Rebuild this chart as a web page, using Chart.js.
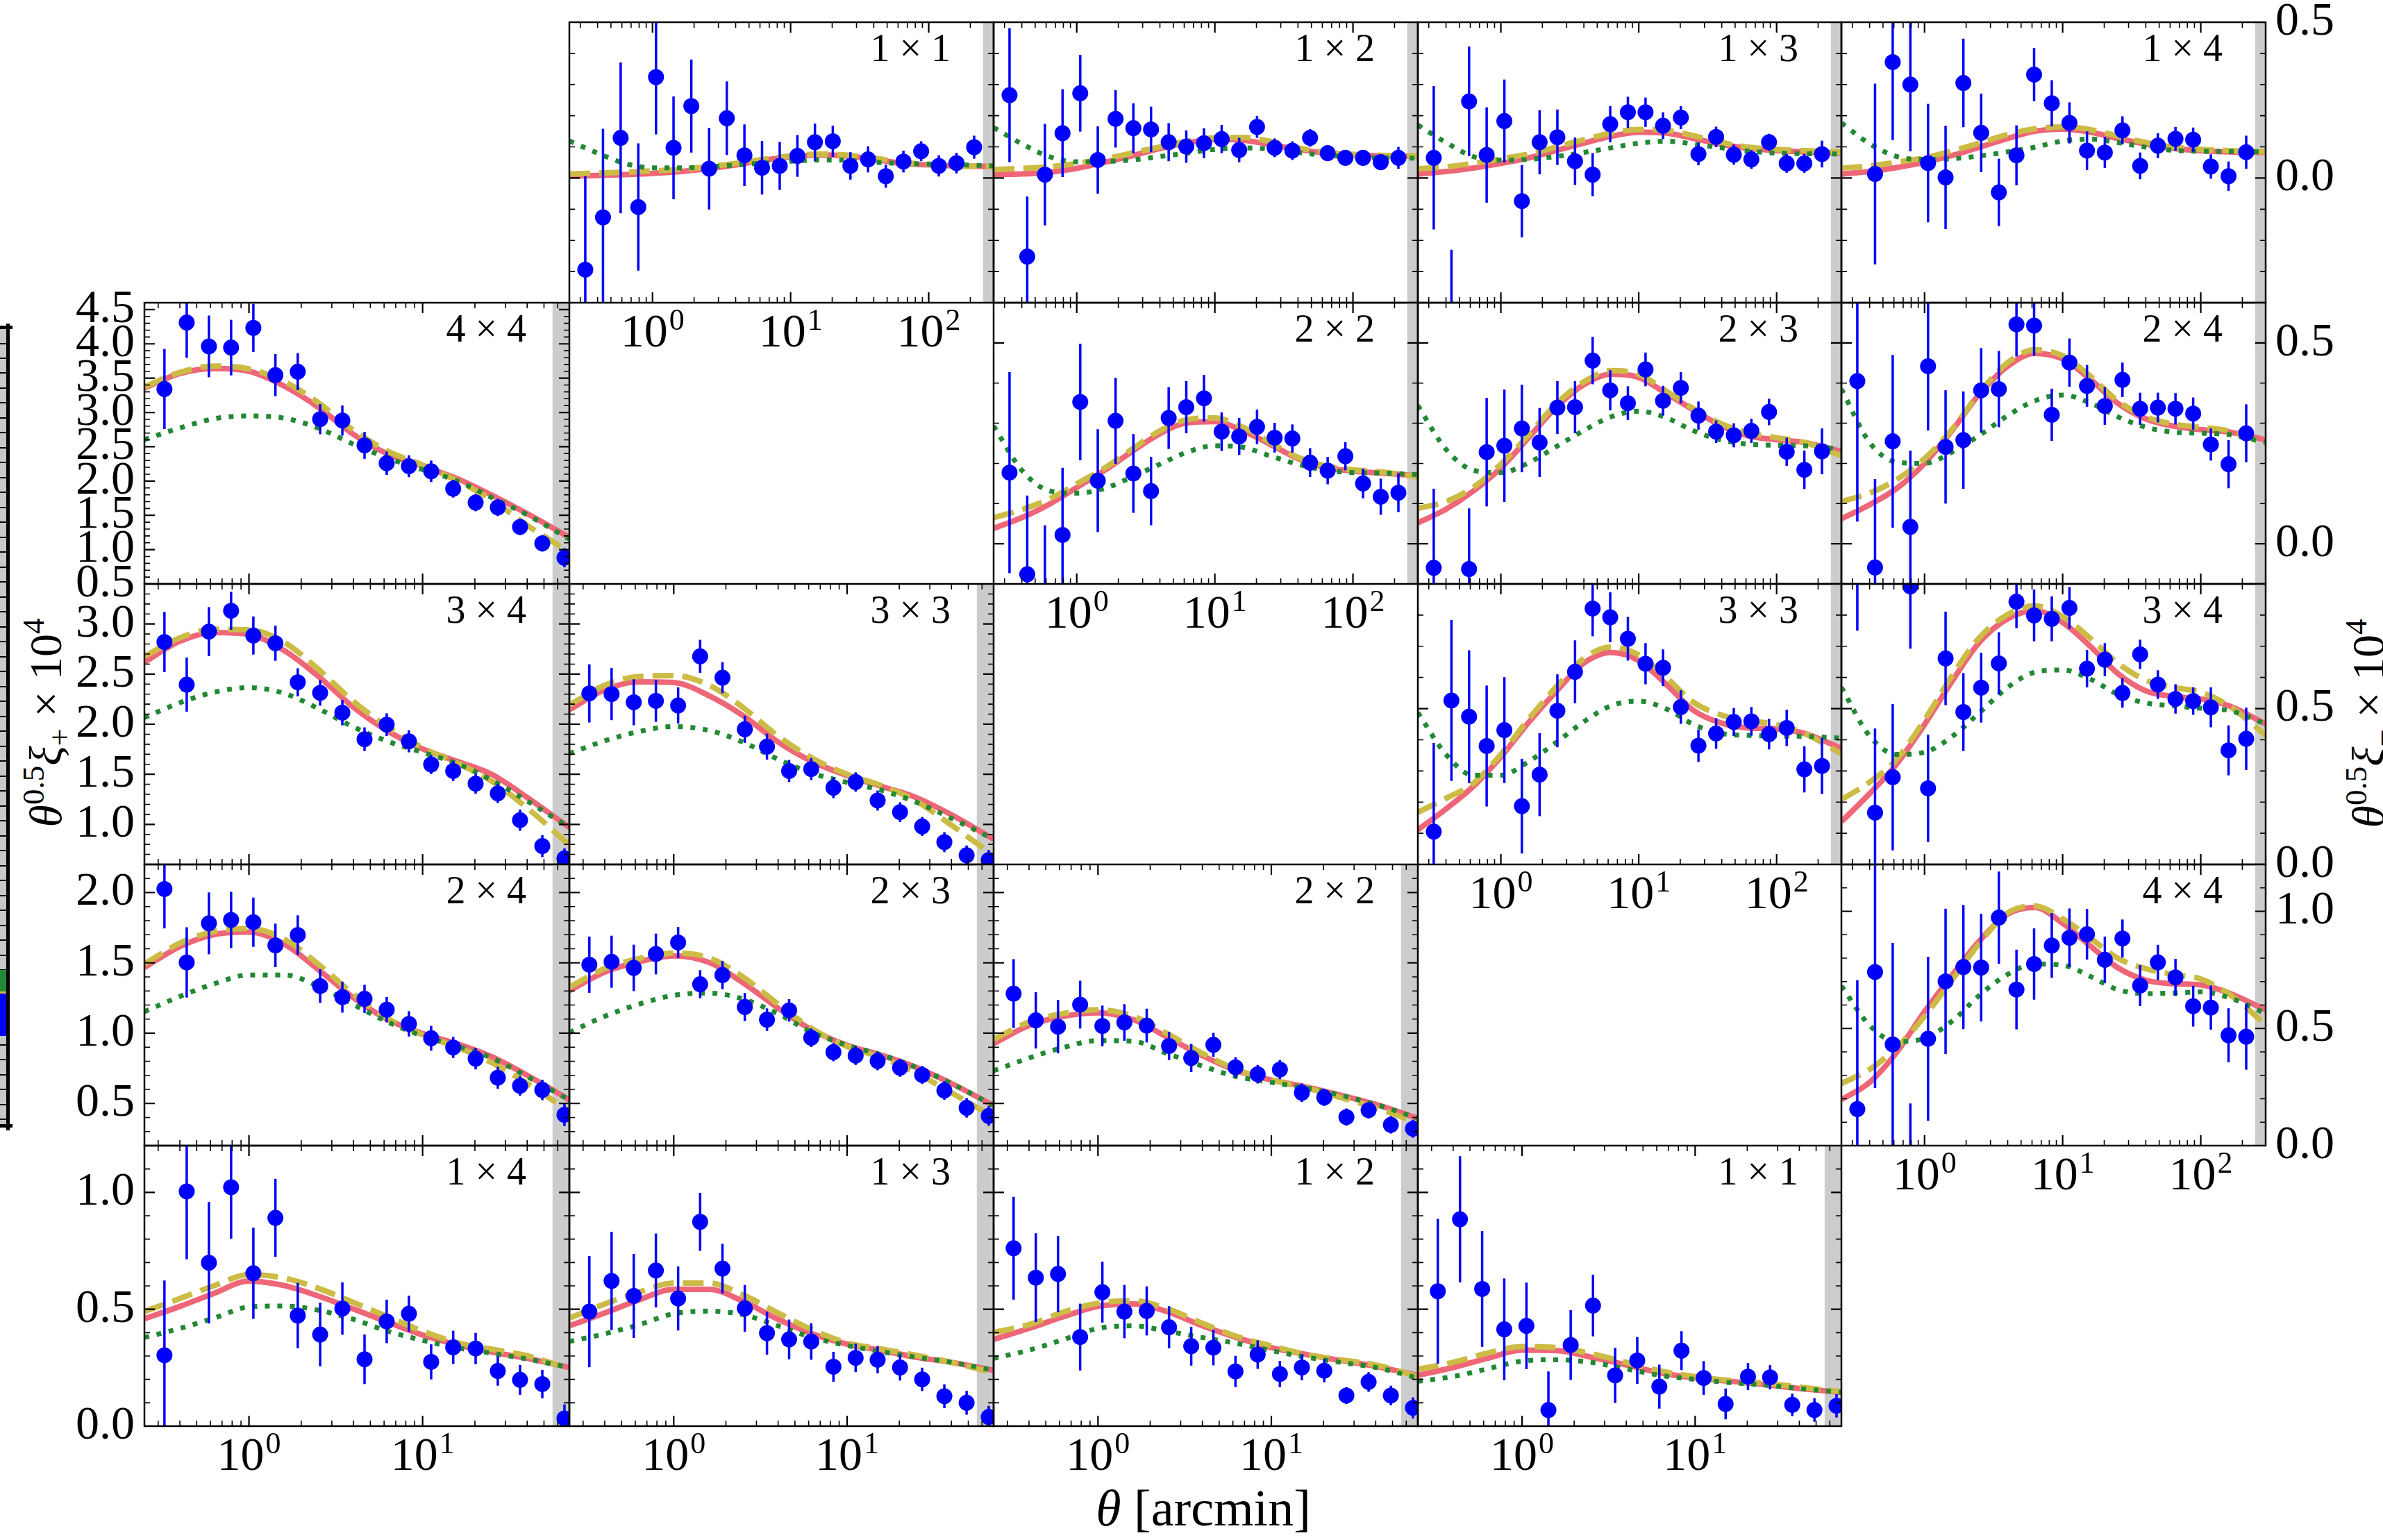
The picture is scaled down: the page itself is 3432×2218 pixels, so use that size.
<!DOCTYPE html>
<html>
<head>
<meta charset="utf-8">
<title>Cosmic shear correlation functions</title>
<script src="https://cdn.jsdelivr.net/npm/chart.js"></script>
<style>
  html, body { margin: 0; padding: 0; background: #fff; }
  #fig { position: relative; width: 3432px; height: 2218px; overflow: hidden; background: #fff; }
  #fig canvas { position: absolute; }
  .lbl { position: absolute; white-space: nowrap; color: #000; line-height: 1;
         font-family: 'Liberation Serif', 'Times New Roman', serif; }
  .lbl sup { font-size: 0.68em; vertical-align: 0; position: relative; top: -0.55em; }
  .lbl sub { font-size: 0.68em; vertical-align: 0; position: relative; top: 0.28em; }
  .strip { position: absolute; }
</style>
</head>
<body>
<div id="fig">
  <!-- legend swatches cut at the left border -->
  <div class="strip" style="left:0;top:472px;width:10px;height:1152px;background:repeating-linear-gradient(to bottom,#000 0 2px,#c8c8c8 2px 21.5px)"></div>
  <div class="strip" style="left:0;top:1397px;width:9px;height:31px;background:#228833"></div>
  <div class="strip" style="left:0;top:1428px;width:9px;height:3px;background:#CCBB44"></div>
  <div class="strip" style="left:0;top:1431px;width:9px;height:61px;background:#0000ff"></div>
  <div class="strip" style="left:9px;top:466px;width:5px;height:1162px;background:#000"></div>
  <div class="strip" style="left:0;top:469px;width:18px;height:5px;background:#000"></div>
  <div class="strip" style="left:0;top:1619px;width:18px;height:5px;background:#000"></div>

  <div class="lbl" style="left:1733px;top:2135px;font-size:74px;transform:translateX(-50%)"><i>θ</i> [arcmin]</div>
  <div class="lbl" style="left:66px;top:1041px;font-size:66px;transform:translate(-50%,-50%) rotate(-90deg)"><i>θ</i><sup>0.5</sup><i>ξ</i><sub>+</sub> × 10<sup>4</sup></div>
  <div class="lbl" style="left:3411px;top:1042px;font-size:66px;transform:translate(-50%,-50%) rotate(-90deg)"><i>θ</i><sup>0.5</sup><i>ξ</i><sub>−</sub> × 10<sup>4</sup></div>
</div>
<script>
// ---------------------------------------------------------------------------
// angular bins (arcmin)
const thetaPlus  = [0.326, 0.438, 0.588, 0.789, 1.06, 1.42, 1.91, 2.57, 3.45, 4.63, 6.21, 8.34, 11.2, 15.0, 20.2, 27.1, 36.4, 48.9, 65.6];
const thetaMinus = [0.326, 0.438, 0.588, 0.789, 1.06, 1.42, 1.91, 2.57, 3.45, 4.63, 6.21, 8.34, 11.2, 15.0, 20.2, 27.1, 36.4, 48.9, 65.6, 88.1, 118.3, 158.9, 213.3];
// angles where the model predictions are tabulated
const modelThetaPlus  = [0.25, 0.4, 0.63, 1, 1.6, 2.5, 4, 6.3, 10, 16, 25, 40, 70];
const modelThetaMinus = [0.25, 0.4, 0.63, 1, 1.6, 2.5, 4, 6.3, 10, 16, 25, 40, 63, 100, 160, 300];

// tick values and labels
const xTickValues   = [1, 10, 100];
const xTickBase     = ['10', '10', '10'];
const xTickExponent = ['0', '1', '2'];
const yTicksPlusR1  = [0.5, 1.0, 1.5, 2.0, 2.5, 3.0, 3.5, 4.0, 4.5];
const yTicksPlusR2  = [1.0, 1.5, 2.0, 2.5, 3.0];
const yTicksPlusR3  = [0.5, 1.0, 1.5, 2.0];
const yTicksPlusR4  = [0.0, 0.5, 1.0];
const yTicksMinusR0 = [0.0, 0.5];
const yTicksMinusR1 = [0.0, 0.5];
const yTicksMinusR2 = [0.0, 0.5];
const yTicksMinusR3 = [0.0, 0.5, 1.0];

// ---------------------------------------------------------------------------
// xi_minus measurements, errors and models (solid / dashed / dotted)
const xm11 = [-0.294, -0.126, 0.129, -0.093, 0.324, 0.097, 0.231, 0.030, 0.192, 0.073, 0.033, 0.039, 0.071, 0.115, 0.118, 0.039, 0.060, 0.006, 0.053, 0.086, 0.039, 0.048, 0.099];
const xm11Err = [0.30, 0.284, 0.242, 0.204, 0.184, 0.165, 0.149, 0.131, 0.118, 0.099, 0.086, 0.077, 0.067, 0.060, 0.050, 0.044, 0.042, 0.037, 0.035, 0.032, 0.034, 0.033, 0.037];
const xm11Solid  = [0.006, 0.008, 0.011, 0.015, 0.021, 0.030, 0.042, 0.057, 0.068, 0.074, 0.071, 0.060, 0.048, 0.042, 0.039, 0.037];
const xm11Dashed = [0.013, 0.016, 0.019, 0.023, 0.028, 0.036, 0.047, 0.060, 0.071, 0.077, 0.074, 0.064, 0.051, 0.043, 0.039, 0.037];
const xm11Dotted = [0.119, 0.080, 0.047, 0.033, 0.033, 0.036, 0.042, 0.048, 0.054, 0.058, 0.057, 0.051, 0.047, 0.045, 0.043, 0.039];

const xm12 = [0.266, -0.252, 0.011, 0.144, 0.272, 0.058, 0.190, 0.160, 0.156, 0.115, 0.101, 0.112, 0.125, 0.090, 0.164, 0.097, 0.088, 0.129, 0.080, 0.065, 0.065, 0.051, 0.065];
const xm12Err = [0.215, 0.193, 0.163, 0.141, 0.123, 0.108, 0.092, 0.080, 0.073, 0.061, 0.052, 0.048, 0.045, 0.039, 0.035, 0.030, 0.030, 0.028, 0.026, 0.025, 0.025, 0.026, 0.035];
const xm12Solid  = [0.011, 0.013, 0.019, 0.031, 0.051, 0.071, 0.095, 0.113, 0.124, 0.121, 0.108, 0.092, 0.080, 0.074, 0.071, 0.070];
const xm12Dashed = [0.027, 0.031, 0.036, 0.047, 0.062, 0.080, 0.100, 0.118, 0.129, 0.130, 0.118, 0.097, 0.083, 0.076, 0.073, 0.071];
const xm12Dotted = [0.162, 0.110, 0.069, 0.052, 0.053, 0.058, 0.069, 0.080, 0.092, 0.097, 0.093, 0.082, 0.073, 0.068, 0.065, 0.064];

const xm13 = [0.065, -0.44, 0.246, 0.074, 0.183, -0.074, 0.115, 0.131, 0.054, 0.011, 0.173, 0.211, 0.211, 0.168, 0.194, 0.077, 0.132, 0.075, 0.060, 0.115, 0.047, 0.047, 0.077];
const xm13Err = [0.23, 0.21, 0.176, 0.153, 0.133, 0.116, 0.103, 0.089, 0.076, 0.069, 0.058, 0.050, 0.047, 0.043, 0.037, 0.036, 0.033, 0.032, 0.030, 0.027, 0.030, 0.030, 0.043];
const xm13Solid  = [0.013, 0.021, 0.032, 0.047, 0.065, 0.088, 0.112, 0.134, 0.147, 0.144, 0.127, 0.108, 0.095, 0.088, 0.084, 0.080];
const xm13Dashed = [0.030, 0.036, 0.047, 0.062, 0.077, 0.099, 0.123, 0.144, 0.156, 0.153, 0.136, 0.114, 0.099, 0.092, 0.088, 0.083];
const xm13Dotted = [0.170, 0.114, 0.069, 0.058, 0.060, 0.069, 0.082, 0.097, 0.112, 0.118, 0.109, 0.097, 0.086, 0.080, 0.078, 0.077];

const xm14 = [null, 0.013, 0.372, 0.300, 0.048, 0.002, 0.305, 0.145, -0.046, 0.073, 0.332, 0.240, 0.177, 0.088, 0.082, 0.153, 0.039, 0.104, 0.126, 0.123, 0.037, 0.006, 0.083];
const xm14Err = [null, 0.29, 0.25, 0.214, 0.19, 0.166, 0.142, 0.126, 0.108, 0.096, 0.085, 0.074, 0.066, 0.062, 0.050, 0.045, 0.043, 0.040, 0.038, 0.039, 0.039, 0.047, 0.053];
const xm14Solid  = [0.013, 0.021, 0.034, 0.051, 0.073, 0.099, 0.127, 0.150, 0.157, 0.147, 0.127, 0.109, 0.095, 0.088, 0.084, 0.082];
const xm14Dashed = [0.032, 0.039, 0.051, 0.065, 0.088, 0.112, 0.140, 0.158, 0.164, 0.155, 0.135, 0.114, 0.099, 0.092, 0.088, 0.084];
const xm14Dotted = [0.177, 0.110, 0.069, 0.060, 0.062, 0.071, 0.084, 0.099, 0.119, 0.125, 0.114, 0.099, 0.089, 0.086, 0.085, 0.084];

const xm22 = [0.177, -0.076, -0.14, 0.022, 0.353, 0.157, 0.306, 0.175, 0.131, 0.313, 0.340, 0.362, 0.279, 0.267, 0.291, 0.264, 0.262, 0.202, 0.182, 0.218, 0.150, 0.117, 0.127];
const xm22Err = [0.25, 0.196, 0.186, 0.167, 0.145, 0.128, 0.107, 0.098, 0.085, 0.077, 0.065, 0.058, 0.048, 0.046, 0.043, 0.037, 0.035, 0.036, 0.034, 0.035, 0.037, 0.045, 0.048];
const xm22Solid  = [0.038, 0.065, 0.098, 0.140, 0.183, 0.229, 0.274, 0.301, 0.304, 0.281, 0.248, 0.212, 0.190, 0.181, 0.176, 0.169];
const xm22Dashed = [0.065, 0.085, 0.111, 0.149, 0.189, 0.235, 0.281, 0.309, 0.313, 0.290, 0.253, 0.215, 0.194, 0.184, 0.179, 0.166];
const xm22Dotted = [0.293, 0.183, 0.132, 0.126, 0.138, 0.166, 0.198, 0.228, 0.244, 0.240, 0.219, 0.198, 0.183, 0.177, 0.176, 0.172];

const xm23 = [-0.060, null, -0.063, 0.228, 0.244, 0.287, 0.252, 0.339, 0.340, 0.456, 0.382, 0.350, 0.434, 0.356, 0.388, 0.319, 0.279, 0.270, 0.281, 0.328, 0.229, 0.184, 0.230];
const xm23Err = [0.197, null, 0.151, 0.135, 0.14, 0.109, 0.086, 0.066, 0.065, 0.059, 0.050, 0.042, 0.042, 0.037, 0.039, 0.035, 0.028, 0.030, 0.030, 0.033, 0.035, 0.048, 0.057];
const xm23Solid  = [0.052, 0.086, 0.131, 0.189, 0.265, 0.339, 0.396, 0.422, 0.414, 0.373, 0.333, 0.293, 0.268, 0.259, 0.252, 0.229];
const xm23Dashed = [0.088, 0.105, 0.140, 0.198, 0.272, 0.347, 0.403, 0.431, 0.422, 0.379, 0.336, 0.298, 0.276, 0.264, 0.252, 0.218];
const xm23Dotted = [0.344, 0.235, 0.183, 0.177, 0.202, 0.241, 0.282, 0.316, 0.330, 0.313, 0.281, 0.258, 0.248, 0.245, 0.244, 0.235];

const xm24 = [0.405, -0.059, 0.255, 0.042, 0.442, 0.241, 0.258, 0.382, 0.385, 0.546, 0.543, 0.321, 0.451, 0.393, 0.343, 0.408, 0.336, 0.339, 0.336, 0.324, 0.247, 0.198, 0.275];
const xm24Err = [0.35, 0.22, 0.215, 0.19, 0.16, 0.141, 0.121, 0.105, 0.095, 0.080, 0.075, 0.065, 0.060, 0.052, 0.047, 0.043, 0.040, 0.037, 0.039, 0.040, 0.040, 0.060, 0.072];
const xm24Solid  = [0.062, 0.097, 0.138, 0.200, 0.284, 0.373, 0.442, 0.474, 0.460, 0.408, 0.350, 0.311, 0.293, 0.284, 0.278, 0.258];
const xm24Dashed = [0.105, 0.126, 0.160, 0.212, 0.287, 0.376, 0.451, 0.483, 0.468, 0.416, 0.356, 0.316, 0.298, 0.290, 0.281, 0.247];
const xm24Dotted = [0.385, 0.252, 0.203, 0.200, 0.229, 0.270, 0.319, 0.356, 0.370, 0.350, 0.316, 0.290, 0.278, 0.275, 0.272, 0.252];

const xm33 = [0.105, 0.526, 0.474, 0.380, 0.431, 0.187, 0.288, 0.493, 0.618, 0.821, 0.793, 0.724, 0.644, 0.631, 0.505, 0.381, 0.420, 0.457, 0.459, 0.418, 0.438, 0.305, 0.316];
const xm33Err = [0.285, 0.258, 0.213, 0.194, 0.17, 0.152, 0.133, 0.117, 0.101, 0.089, 0.080, 0.070, 0.066, 0.059, 0.054, 0.052, 0.049, 0.045, 0.046, 0.049, 0.058, 0.074, 0.090];
const xm33Solid  = [0.111, 0.178, 0.250, 0.345, 0.457, 0.553, 0.646, 0.680, 0.654, 0.576, 0.494, 0.453, 0.438, 0.435, 0.420, 0.371];
const xm33Dashed = [0.167, 0.212, 0.260, 0.353, 0.468, 0.568, 0.661, 0.698, 0.672, 0.598, 0.520, 0.479, 0.461, 0.449, 0.420, 0.353];
const xm33Dotted = [0.487, 0.353, 0.286, 0.286, 0.331, 0.390, 0.458, 0.509, 0.524, 0.498, 0.449, 0.420, 0.414, 0.412, 0.411, 0.405];

const xm34 = [1.0, 0.166, 0.280, 0.892, 0.244, 0.661, 0.489, 0.567, 0.645, 0.843, 0.799, 0.788, 0.823, 0.628, 0.657, 0.550, 0.674, 0.577, 0.531, 0.524, 0.504, 0.366, 0.403];
const xm34Err = [0.25, 0.27, 0.235, 0.20, 0.172, 0.15, 0.125, 0.112, 0.100, 0.085, 0.083, 0.072, 0.067, 0.060, 0.053, 0.047, 0.047, 0.046, 0.047, 0.044, 0.064, 0.080, 0.100];
const xm34Solid  = [0.137, 0.227, 0.323, 0.449, 0.591, 0.713, 0.788, 0.814, 0.776, 0.698, 0.613, 0.557, 0.539, 0.531, 0.509, 0.449];
const xm34Dashed = [0.208, 0.264, 0.338, 0.464, 0.609, 0.728, 0.802, 0.830, 0.795, 0.724, 0.646, 0.591, 0.568, 0.553, 0.509, 0.412];
const xm34Dotted = [0.568, 0.412, 0.353, 0.360, 0.412, 0.487, 0.568, 0.617, 0.624, 0.594, 0.546, 0.518, 0.509, 0.501, 0.494, 0.449];

const xm44 = [0.156, 0.741, 0.432, -0.19, 0.456, 0.701, 0.762, 0.760, 0.973, 0.666, 0.775, 0.854, 0.887, 0.902, 0.793, 0.884, 0.683, 0.782, 0.718, 0.595, 0.589, 0.471, 0.465];
const xm44Err = [0.55, 0.495, 0.433, 0.37, 0.35, 0.31, 0.265, 0.23, 0.197, 0.17, 0.152, 0.138, 0.125, 0.108, 0.099, 0.081, 0.087, 0.075, 0.079, 0.087, 0.094, 0.115, 0.141];
const xm44Solid  = [0.196, 0.270, 0.399, 0.572, 0.731, 0.874, 0.988, 1.016, 0.949, 0.850, 0.760, 0.706, 0.691, 0.686, 0.651, 0.577];
const xm44Dashed = [0.265, 0.325, 0.419, 0.552, 0.711, 0.864, 0.993, 1.023, 0.968, 0.884, 0.800, 0.755, 0.731, 0.711, 0.647, 0.513];
const xm44Dotted = [0.681, 0.513, 0.444, 0.458, 0.533, 0.642, 0.731, 0.775, 0.770, 0.721, 0.666, 0.649, 0.651, 0.656, 0.632, 0.562];

// xi_plus measurements, errors and models (solid / dashed / dotted)
const xp44 = [3.341, 4.311, 3.963, 3.946, 4.233, 3.544, 3.595, 2.902, 2.882, 2.520, 2.260, 2.216, 2.142, 1.889, 1.686, 1.615, 1.331, 1.091, 0.882];
const xp44Err = [0.584, 0.514, 0.45, 0.405, 0.35, 0.307, 0.27, 0.22, 0.22, 0.196, 0.17, 0.16, 0.157, 0.13, 0.127, 0.127, 0.12, 0.12, 0.14];
const xp44Solid  = [3.355, 3.568, 3.642, 3.601, 3.382, 3.078, 2.679, 2.395, 2.216, 2.030, 1.794, 1.524, 1.179];
const xp44Dashed = [3.372, 3.584, 3.676, 3.635, 3.449, 3.145, 2.740, 2.436, 2.233, 1.997, 1.726, 1.355, 0.966];
const xp44Dotted = [2.605, 2.774, 2.909, 2.949, 2.916, 2.774, 2.537, 2.334, 2.166, 1.997, 1.760, 1.507, 1.152];

const xp34 = [2.820, 2.395, 2.924, 3.132, 2.885, 2.808, 2.418, 2.312, 2.115, 1.850, 1.995, 1.829, 1.598, 1.533, 1.406, 1.309, 1.042, 0.783, 0.660];
const xp34Err = [0.30, 0.27, 0.245, 0.19, 0.19, 0.175, 0.14, 0.127, 0.127, 0.118, 0.113, 0.11, 0.096, 0.10, 0.10, 0.096, 0.106, 0.11, 0.10];
const xp34Solid  = [2.619, 2.827, 2.915, 2.896, 2.734, 2.480, 2.169, 1.931, 1.753, 1.626, 1.499, 1.268, 0.968];
const xp34Dashed = [2.677, 2.862, 2.947, 2.942, 2.815, 2.550, 2.226, 1.972, 1.764, 1.607, 1.430, 1.164, 0.794];
const xp34Dotted = [2.065, 2.215, 2.319, 2.365, 2.307, 2.157, 1.972, 1.829, 1.718, 1.603, 1.441, 1.233, 0.968];

const xp33 = [2.307, 2.300, 2.219, 2.233, 2.187, 2.677, 2.464, 1.949, 1.776, 1.533, 1.552, 1.365, 1.423, 1.238, 1.122, 0.979, 0.822, 0.691, 0.644];
const xp33Err = [0.29, 0.26, 0.23, 0.21, 0.18, 0.165, 0.155, 0.135, 0.13, 0.11, 0.11, 0.104, 0.097, 0.10, 0.098, 0.095, 0.10, 0.098, 0.10];
const xp33Solid  = [2.145, 2.342, 2.423, 2.416, 2.284, 2.088, 1.822, 1.626, 1.487, 1.376, 1.268, 1.095, 0.852];
const xp33Dashed = [2.192, 2.388, 2.476, 2.485, 2.388, 2.169, 1.880, 1.661, 1.499, 1.383, 1.233, 0.991, 0.691];
const xp33Dotted = [1.707, 1.834, 1.926, 1.977, 1.938, 1.822, 1.649, 1.510, 1.418, 1.337, 1.222, 1.060, 0.852];

const xp24 = [2.025, 1.503, 1.781, 1.805, 1.789, 1.624, 1.698, 1.335, 1.256, 1.244, 1.167, 1.066, 0.964, 0.898, 0.818, 0.683, 0.625, 0.596, 0.419];
const xp24Err = [0.28, 0.25, 0.22, 0.20, 0.175, 0.155, 0.14, 0.12, 0.11, 0.10, 0.09, 0.09, 0.088, 0.075, 0.076, 0.078, 0.07, 0.073, 0.08];
const xp24Solid  = [1.467, 1.616, 1.701, 1.718, 1.632, 1.454, 1.252, 1.096, 0.997, 0.922, 0.832, 0.700, 0.526];
const xp24Dashed = [1.492, 1.640, 1.723, 1.744, 1.668, 1.492, 1.277, 1.104, 0.988, 0.898, 0.790, 0.642, 0.444];
const xp24Dotted = [1.153, 1.261, 1.351, 1.414, 1.414, 1.335, 1.203, 1.079, 0.980, 0.906, 0.823, 0.691, 0.526];

const xp23 = [1.487, 1.508, 1.464, 1.563, 1.645, 1.348, 1.413, 1.186, 1.096, 1.162, 0.967, 0.865, 0.840, 0.802, 0.754, 0.703, 0.592, 0.469, 0.411];
const xp23Err = [0.20, 0.185, 0.165, 0.145, 0.11, 0.10, 0.10, 0.10, 0.08, 0.08, 0.066, 0.065, 0.066, 0.066, 0.064, 0.064, 0.066, 0.07, 0.07];
const xp23Solid  = [1.302, 1.434, 1.508, 1.550, 1.503, 1.360, 1.178, 1.021, 0.914, 0.840, 0.757, 0.642, 0.485];
const xp23Dashed = [1.327, 1.459, 1.530, 1.569, 1.536, 1.401, 1.206, 1.030, 0.906, 0.823, 0.716, 0.576, 0.403];
const xp23Dotted = [1.005, 1.120, 1.206, 1.269, 1.285, 1.244, 1.137, 1.005, 0.914, 0.843, 0.757, 0.642, 0.485];

const xp22 = [1.281, 1.091, 1.046, 1.203, 1.051, 1.076, 1.054, 0.909, 0.823, 0.917, 0.757, 0.708, 0.741, 0.576, 0.543, 0.403, 0.452, 0.348, 0.320];
const xp22Err = [0.245, 0.20, 0.19, 0.17, 0.145, 0.13, 0.12, 0.10, 0.10, 0.085, 0.072, 0.066, 0.068, 0.066, 0.062, 0.061, 0.058, 0.062, 0.064];
const xp22Solid  = [0.926, 1.054, 1.120, 1.145, 1.096, 0.972, 0.840, 0.733, 0.667, 0.617, 0.559, 0.493, 0.394];
const xp22Dashed = [0.955, 1.079, 1.140, 1.167, 1.120, 0.997, 0.856, 0.741, 0.667, 0.609, 0.543, 0.469, 0.361];
const xp22Dotted = [0.733, 0.823, 0.898, 0.947, 0.942, 0.856, 0.766, 0.691, 0.650, 0.609, 0.559, 0.493, 0.394];

const xp14 = [0.303, 1.004, 0.699, 1.022, 0.654, 0.891, 0.473, 0.392, 0.503, 0.286, 0.448, 0.481, 0.275, 0.337, 0.332, 0.236, 0.198, 0.180, 0.033];
const xp14Err = [0.32, 0.29, 0.26, 0.22, 0.195, 0.167, 0.14, 0.136, 0.112, 0.106, 0.093, 0.077, 0.075, 0.071, 0.067, 0.063, 0.064, 0.061, 0.06];
const xp14Solid  = [0.459, 0.512, 0.568, 0.621, 0.601, 0.557, 0.501, 0.445, 0.390, 0.347, 0.317, 0.290, 0.251];
const xp14Dashed = [0.490, 0.546, 0.601, 0.648, 0.633, 0.590, 0.529, 0.468, 0.406, 0.356, 0.329, 0.301, 0.245];
const xp14Dotted = [0.379, 0.418, 0.462, 0.510, 0.514, 0.496, 0.457, 0.406, 0.367, 0.334, 0.312, 0.287, 0.251];

const xp13 = [0.490, 0.621, 0.557, 0.666, 0.546, 0.874, 0.674, 0.504, 0.398, 0.371, 0.362, 0.254, 0.292, 0.284, 0.251, 0.200, 0.128, 0.100, 0.039];
const xp13Err = [0.238, 0.21, 0.18, 0.158, 0.137, 0.124, 0.106, 0.10, 0.092, 0.085, 0.078, 0.064, 0.061, 0.058, 0.056, 0.05, 0.051, 0.051, 0.048];
const xp13Solid  = [0.429, 0.484, 0.540, 0.585, 0.585, 0.535, 0.457, 0.395, 0.351, 0.323, 0.295, 0.273, 0.239];
const xp13Dashed = [0.462, 0.523, 0.573, 0.612, 0.612, 0.562, 0.484, 0.412, 0.356, 0.329, 0.303, 0.273, 0.228];
const xp13Dotted = [0.362, 0.395, 0.434, 0.481, 0.492, 0.477, 0.429, 0.379, 0.345, 0.317, 0.295, 0.273, 0.239];

const xp12 = [0.761, 0.635, 0.651, 0.381, 0.573, 0.490, 0.493, 0.423, 0.342, 0.336, 0.234, 0.306, 0.223, 0.251, 0.237, 0.131, 0.189, 0.131, 0.078];
const xp12Err = [0.22, 0.19, 0.163, 0.143, 0.13, 0.114, 0.105, 0.09, 0.083, 0.076, 0.067, 0.061, 0.056, 0.055, 0.05, 0.036, 0.042, 0.042, 0.045];
const xp12Solid  = [0.371, 0.418, 0.468, 0.512, 0.523, 0.490, 0.429, 0.379, 0.336, 0.306, 0.281, 0.256, 0.217];
const xp12Dashed = [0.401, 0.434, 0.488, 0.526, 0.537, 0.503, 0.440, 0.384, 0.343, 0.306, 0.284, 0.262, 0.212];
const xp12Dotted = [0.290, 0.325, 0.370, 0.418, 0.429, 0.406, 0.379, 0.354, 0.323, 0.295, 0.273, 0.251, 0.206];

const xp11 = [0.577, 0.885, 0.587, 0.414, 0.429, 0.069, 0.347, 0.516, 0.217, 0.281, 0.169, 0.323, 0.206, 0.095, 0.212, 0.209, 0.091, 0.069, 0.087];
const xp11Err = [0.31, 0.27, 0.248, 0.218, 0.185, 0.165, 0.149, 0.132, 0.118, 0.10, 0.094, 0.083, 0.072, 0.066, 0.058, 0.052, 0.048, 0.05, 0.05];
const xp11Solid  = [0.217, 0.251, 0.290, 0.325, 0.323, 0.295, 0.262, 0.228, 0.206, 0.192, 0.178, 0.161, 0.145];
const xp11Dashed = [0.243, 0.273, 0.312, 0.340, 0.336, 0.310, 0.273, 0.236, 0.212, 0.195, 0.184, 0.167, 0.147];
const xp11Dotted = [0.192, 0.212, 0.245, 0.278, 0.284, 0.273, 0.245, 0.217, 0.200, 0.186, 0.176, 0.161, 0.145];

// ---------------------------------------------------------------------------
// grid of panels: column / row index, y range, data arrays
const panels = [
  { kind: 'minus', name: '1 × 1', row: 0, col: 1, ymin: -0.4, ymax: 0.5, yt: yTicksMinusR0, xLab: true,  v: xm11, e: xm11Err, s: xm11Solid, d: xm11Dashed, o: xm11Dotted },
  { kind: 'minus', name: '1 × 2', row: 0, col: 2, ymin: -0.4, ymax: 0.5, yt: yTicksMinusR0, xLab: false, v: xm12, e: xm12Err, s: xm12Solid, d: xm12Dashed, o: xm12Dotted },
  { kind: 'minus', name: '1 × 3', row: 0, col: 3, ymin: -0.4, ymax: 0.5, yt: yTicksMinusR0, xLab: false, v: xm13, e: xm13Err, s: xm13Solid, d: xm13Dashed, o: xm13Dotted },
  { kind: 'minus', name: '1 × 4', row: 0, col: 4, ymin: -0.4, ymax: 0.5, yt: yTicksMinusR0, xLab: false, v: xm14, e: xm14Err, s: xm14Solid, d: xm14Dashed, o: xm14Dotted },
  { kind: 'minus', name: '2 × 2', row: 1, col: 2, ymin: -0.1, ymax: 0.6, yt: yTicksMinusR1, xLab: true,  v: xm22, e: xm22Err, s: xm22Solid, d: xm22Dashed, o: xm22Dotted },
  { kind: 'minus', name: '2 × 3', row: 1, col: 3, ymin: -0.1, ymax: 0.6, yt: yTicksMinusR1, xLab: false, v: xm23, e: xm23Err, s: xm23Solid, d: xm23Dashed, o: xm23Dotted },
  { kind: 'minus', name: '2 × 4', row: 1, col: 4, ymin: -0.1, ymax: 0.6, yt: yTicksMinusR1, xLab: false, v: xm24, e: xm24Err, s: xm24Solid, d: xm24Dashed, o: xm24Dotted },
  { kind: 'minus', name: '3 × 3', row: 2, col: 3, ymin: 0.0, ymax: 0.9, yt: yTicksMinusR2, xLab: true,  v: xm33, e: xm33Err, s: xm33Solid, d: xm33Dashed, o: xm33Dotted },
  { kind: 'minus', name: '3 × 4', row: 2, col: 4, ymin: 0.0, ymax: 0.9, yt: yTicksMinusR2, xLab: false, v: xm34, e: xm34Err, s: xm34Solid, d: xm34Dashed, o: xm34Dotted },
  { kind: 'minus', name: '4 × 4', row: 3, col: 4, ymin: 0.0, ymax: 1.2, yt: yTicksMinusR3, xLab: true,  v: xm44, e: xm44Err, s: xm44Solid, d: xm44Dashed, o: xm44Dotted },
  { kind: 'plus',  name: '4 × 4', row: 1, col: 0, ymin: 0.5, ymax: 4.6, yt: yTicksPlusR1, xLab: false, v: xp44, e: xp44Err, s: xp44Solid, d: xp44Dashed, o: xp44Dotted },
  { kind: 'plus',  name: '3 × 4', row: 2, col: 0, ymin: 0.6, ymax: 3.4, yt: yTicksPlusR2, xLab: false, v: xp34, e: xp34Err, s: xp34Solid, d: xp34Dashed, o: xp34Dotted },
  { kind: 'plus',  name: '3 × 3', row: 2, col: 1, ymin: 0.6, ymax: 3.4, yt: yTicksPlusR2, xLab: false, v: xp33, e: xp33Err, s: xp33Solid, d: xp33Dashed, o: xp33Dotted },
  { kind: 'plus',  name: '2 × 4', row: 3, col: 0, ymin: 0.2, ymax: 2.2, yt: yTicksPlusR3, xLab: false, v: xp24, e: xp24Err, s: xp24Solid, d: xp24Dashed, o: xp24Dotted },
  { kind: 'plus',  name: '2 × 3', row: 3, col: 1, ymin: 0.2, ymax: 2.2, yt: yTicksPlusR3, xLab: false, v: xp23, e: xp23Err, s: xp23Solid, d: xp23Dashed, o: xp23Dotted },
  { kind: 'plus',  name: '2 × 2', row: 3, col: 2, ymin: 0.2, ymax: 2.2, yt: yTicksPlusR3, xLab: false, v: xp22, e: xp22Err, s: xp22Solid, d: xp22Dashed, o: xp22Dotted },
  { kind: 'plus',  name: '1 × 4', row: 4, col: 0, ymin: 0.0, ymax: 1.2, yt: yTicksPlusR4, xLab: true,  v: xp14, e: xp14Err, s: xp14Solid, d: xp14Dashed, o: xp14Dotted },
  { kind: 'plus',  name: '1 × 3', row: 4, col: 1, ymin: 0.0, ymax: 1.2, yt: yTicksPlusR4, xLab: true,  v: xp13, e: xp13Err, s: xp13Solid, d: xp13Dashed, o: xp13Dotted },
  { kind: 'plus',  name: '1 × 2', row: 4, col: 2, ymin: 0.0, ymax: 1.2, yt: yTicksPlusR4, xLab: true,  v: xp12, e: xp12Err, s: xp12Solid, d: xp12Dashed, o: xp12Dotted },
  { kind: 'plus',  name: '1 × 1', row: 4, col: 3, ymin: 0.0, ymax: 1.2, yt: yTicksPlusR4, xLab: true,  v: xp11, e: xp11Err, s: xp11Solid, d: xp11Dashed, o: xp11Dotted },
];

// ---------------------------------------------------------------------------
const colEdges = [208, 820, 1431, 2042, 2652, 3263];
const rowEdges = [32, 436, 841, 1245, 1650, 2054];
const MARGIN = 150;
const FONT = "'Liberation Serif', 'Times New Roman', serif";
const BLUE = '#0000ff', RED = '#EE6677', YELLOW = '#CCBB44', GREEN = '#228833', BAND = '#cccccc';

// shaded scale cut, error bars, frame with inward ticks, decade labels and bin-pair label
const panelDecor = {
  id: 'panelDecor',
  beforeDatasetsDraw(chart, args, opts) {
    const { ctx, chartArea: a, scales: { x } } = chart;
    const x0 = x.getPixelForValue(opts.cut);
    ctx.save();
    ctx.fillStyle = BAND;
    ctx.fillRect(x0, a.top, a.right - x0, a.bottom - a.top);
    ctx.restore();
  },
  beforeDatasetDraw(chart, args) {
    if (args.index !== 0) return;
    const ds = chart.data.datasets[0];
    const { ctx, chartArea: a, scales: { x, y } } = chart;
    ctx.save();
    ctx.beginPath();
    ctx.rect(a.left, a.top, a.right - a.left, a.bottom - a.top);
    ctx.clip();
    ctx.strokeStyle = BLUE;
    ctx.lineWidth = 3.5;
    ds.data.forEach((pt, i) => {
      const err = ds.errors[i];
      if (pt.y == null || err == null) return;
      const px = x.getPixelForValue(pt.x);
      ctx.beginPath();
      ctx.moveTo(px, y.getPixelForValue(pt.y - err));
      ctx.lineTo(px, y.getPixelForValue(pt.y + err));
      ctx.stroke();
    });
    ctx.restore();
  },
  afterDraw(chart, args, opts) {
    const { ctx, chartArea: a, scales: { x, y } } = chart;
    ctx.save();
    ctx.strokeStyle = '#000';
    const vTick = (px, len, lw) => {
      ctx.lineWidth = lw;
      ctx.beginPath();
      ctx.moveTo(px, a.bottom); ctx.lineTo(px, a.bottom - len);
      ctx.moveTo(px, a.top); ctx.lineTo(px, a.top + len);
      ctx.stroke();
    };
    const hTick = (py, len, lw) => {
      ctx.lineWidth = lw;
      ctx.beginPath();
      ctx.moveTo(a.left, py); ctx.lineTo(a.left + len, py);
      ctx.moveTo(a.right, py); ctx.lineTo(a.right - len, py);
      ctx.stroke();
    };
    // logarithmic x ticks: decades and their 2..9 subdivisions
    [0.1, 1, 10, 100].forEach(dec => {
      for (let k = 1; k <= 9; k++) {
        const v = +(k * dec).toPrecision(3);
        if (v < x.min || v > x.max) continue;
        const px = x.getPixelForValue(v);
        if (k === 1) vTick(px, 15, 2.2); else vTick(px, 8, 1.6);
      }
    });
    // linear y ticks: labelled majors plus minors every 0.1
    const majors = opts.yt.map(v => Math.round(v * 10));
    for (let t = Math.ceil(y.min * 10 - 1e-6); t <= Math.floor(y.max * 10 + 1e-6); t++) {
      const py = y.getPixelForValue(t / 10);
      if (majors.includes(t)) hTick(py, 15, 2.2); else hTick(py, 8, 1.6);
    }
    ctx.lineWidth = 2.5;
    ctx.strokeRect(a.left, a.top, a.right - a.left, a.bottom - a.top);

    ctx.fillStyle = '#000';
    ctx.textBaseline = 'alphabetic';
    // decade labels below the axis, written as 10 with a raised exponent
    if (opts.xLab) {
      xTickValues.forEach((v, i) => {
        if (v < x.min || v > x.max) return;
        const px = x.getPixelForValue(v);
        ctx.font = '68px ' + FONT;
        const wBase = ctx.measureText(xTickBase[i]).width;
        ctx.font = '44px ' + FONT;
        const wExp = ctx.measureText(xTickExponent[i]).width;
        const start = px - (wBase + 2 + wExp) / 2;
        ctx.textAlign = 'left';
        ctx.font = '68px ' + FONT;
        ctx.fillText(xTickBase[i], start, a.bottom + 63);
        ctx.font = '44px ' + FONT;
        ctx.fillText(xTickExponent[i], start + wBase + 2, a.bottom + 39);
      });
    }
    ctx.font = '56px ' + FONT;
    ctx.textAlign = 'right';
    ctx.fillText(opts.name, a.right - 62, a.top + 56);
    ctx.restore();
  }
};

const fig = document.getElementById('fig');
const pts = (xs, ys) => xs.map((xv, i) => ({ x: xv, y: ys[i] }));

panels.forEach(p => {
  const L = colEdges[p.col], R = colEdges[p.col + 1];
  const T = rowEdges[p.row], B = rowEdges[p.row + 1];
  const W = R - L, H = B - T;
  const cv = document.createElement('canvas');
  cv.width = W + 2 * MARGIN;
  cv.height = H + 2 * MARGIN;
  cv.style.left = (L - MARGIN) + 'px';
  cv.style.top = (T - MARGIN) + 'px';
  cv.style.width = cv.width + 'px';
  cv.style.height = cv.height + 'px';
  fig.appendChild(cv);

  const minus = p.kind === 'minus';
  const theta = minus ? thetaMinus : thetaPlus;
  const mTheta = minus ? modelThetaMinus : modelThetaPlus;
  const xMax = minus ? 295 : 70;
  const onRight = p.col === 4;
  const showY = p.col === 0 || p.col === 4;
  const curve = (vals, color, width, dash, order) => ({
    data: pts(mTheta, vals), borderColor: color, borderWidth: width, borderDash: dash,
    borderCapStyle: 'butt', pointRadius: 0, pointHoverRadius: 0, fill: false,
    cubicInterpolationMode: 'monotone', order, clip: 0
  });

  new Chart(cv, {
    type: 'line',
    data: {
      datasets: [
        { data: pts(theta, p.v), errors: p.e, showLine: false, pointRadius: 11.5, pointHoverRadius: 11.5,
          pointBackgroundColor: BLUE, pointBorderWidth: 0, borderColor: BLUE, order: 0, clip: 0 },
        curve(p.o, GREEN, 7, [7, 11], 1),
        curve(p.d, YELLOW, 8, [30, 13], 2),
        curve(p.s, RED, 8, [], 3)
      ]
    },
    options: {
      responsive: false,
      animation: false,
      devicePixelRatio: 1,
      events: [],
      layout: { padding: { left: onRight ? MARGIN : 0, right: onRight ? 0 : MARGIN, top: MARGIN, bottom: 0 } },
      plugins: {
        legend: { display: false },
        tooltip: { enabled: false },
        panelDecor: { cut: minus ? 247 : 56, yt: p.yt, name: p.name, xLab: p.xLab }
      },
      scales: {
        x: {
          type: 'logarithmic', position: 'bottom', min: 0.25, max: xMax,
          grid: { display: false, drawTicks: false }, border: { display: false },
          afterFit: s => { s.height = MARGIN; },
          afterBuildTicks: s => { s.ticks = xTickValues.filter(v => v <= xMax).map(v => ({ value: v })); },
          ticks: { display: false }
        },
        y: {
          type: 'linear', position: onRight ? 'right' : 'left', min: p.ymin, max: p.ymax,
          grid: { display: false, drawTicks: false }, border: { display: false },
          afterFit: s => { s.width = MARGIN; },
          afterBuildTicks: s => { s.ticks = p.yt.map(v => ({ value: v })); },
          ticks: {
            display: showY, autoSkip: false, padding: 14, color: '#000',
            font: { family: FONT, size: 68 },
            callback: v => Number(v).toFixed(1)
          }
        }
      }
    },
    plugins: [panelDecor]
  });
});
</script>
</body>
</html>
